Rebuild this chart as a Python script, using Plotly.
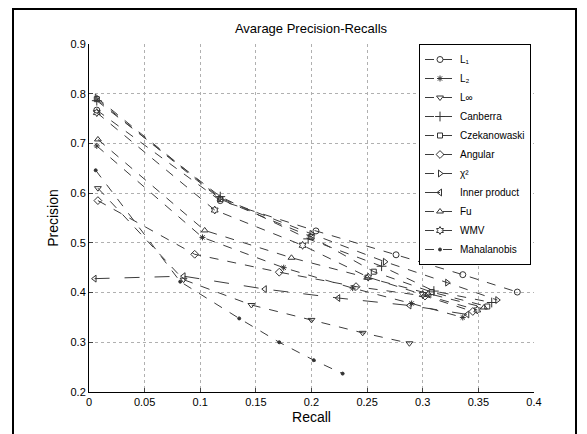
import plotly.graph_objects as go

names = ["L₁", "L₂", "L∞", "Canberra", "Czekanowaski", "Angular",
         "χ²", "Inner product", "Fu", "WMV", "Mahalanobis"]

recall_L1 = [0.007, 0.118, 0.204, 0.276, 0.336, 0.385]
prec_L1 = [0.767, 0.585, 0.524, 0.476, 0.436, 0.401]

recall_L2 = [0.007, 0.102, 0.175, 0.237, 0.290, 0.336]
prec_L2 = [0.695, 0.511, 0.450, 0.409, 0.378, 0.350]

recall_Linf = [0.008, 0.085, 0.146, 0.200, 0.246, 0.288]
prec_Linf = [0.610, 0.426, 0.375, 0.345, 0.319, 0.298]

recall_canb = [0.007, 0.118, 0.197, 0.263, 0.310, 0.362]
prec_canb = [0.786, 0.593, 0.508, 0.453, 0.403, 0.380]

recall_czek = [0.007, 0.118, 0.200, 0.256, 0.308, 0.358]
prec_czek = [0.789, 0.588, 0.512, 0.442, 0.401, 0.372]

recall_ang = [0.008, 0.095, 0.171, 0.240, 0.302, 0.345]
prec_ang = [0.585, 0.477, 0.441, 0.412, 0.393, 0.362]

recall_chi = [0.007, 0.118, 0.200, 0.266, 0.322, 0.367]
prec_chi = [0.792, 0.590, 0.518, 0.462, 0.420, 0.385]

recall_inner = [0.005, 0.085, 0.158, 0.224, 0.288, 0.340]
prec_inner = [0.428, 0.433, 0.407, 0.389, 0.374, 0.356]

recall_fu = [0.008, 0.104, 0.182, 0.250, 0.305, 0.355]
prec_fu = [0.708, 0.525, 0.470, 0.430, 0.398, 0.370]

recall_wmv = [0.007, 0.113, 0.192, 0.251, 0.300, 0.349]
prec_wmv = [0.762, 0.566, 0.495, 0.431, 0.396, 0.365]

recall_maha = [0.006, 0.082, 0.135, 0.171, 0.202, 0.228]
prec_maha = [0.646, 0.422, 0.348, 0.300, 0.264, 0.237]

xs = [recall_L1, recall_L2, recall_Linf, recall_canb, recall_czek, recall_ang,
      recall_chi, recall_inner, recall_fu, recall_wmv, recall_maha]
ys = [prec_L1, prec_L2, prec_Linf, prec_canb, prec_czek, prec_ang,
      prec_chi, prec_inner, prec_fu, prec_wmv, prec_maha]
symbols = ["circle-open", "asterisk-open", "triangle-down-open", "cross-thin-open", "square-open",
           "diamond-open", "triangle-right-open", "triangle-left-open", "triangle-up-open",
           "hexagram-open", "circle"]
sizes = [6, 5, 6, 7, 5, 6, 6, 6, 6, 6, 3]
dashes = ["dash", "dash", "dash", "dash", "dash", "dash", "dash", "longdash", "dash", "dash", "dash"]

fig = go.Figure()
for n, x, y, s, sz, d in zip(names, xs, ys, symbols, sizes, dashes):
    fig.add_trace(go.Scatter(
        x=x, y=y, name=n, mode="lines+markers",
        line=dict(color="#3c3c3c", width=1, dash=d),
        marker=dict(symbol=s, size=sz, color="#333333", line=dict(width=1, color="#333333")),
    ))

W, H = 587, 434
L, R, T, B = 89, 534, 44, 392
pw, ph = R - L, B - T
grid = dict(showgrid=True, gridcolor="#b0b0b0", griddash="dot", gridwidth=1)
fig.update_layout(
    width=W, height=H,
    margin=dict(l=L, r=W - R, t=T, b=H - B),
    paper_bgcolor="white", plot_bgcolor="white",
    font=dict(family="Liberation Sans, Arial, sans-serif", color="black", size=11),
    title=dict(text="Avarage Precision-Recalls", x=(311 - L) / pw, xanchor="center", xref="paper",
               y=1 - 28 / H, yanchor="middle", font=dict(size=13)),
    xaxis=dict(range=[0, 0.4], showline=True, linecolor="black",
               linewidth=1, ticks="inside", ticklen=4, zeroline=False, mirror=False,
               tickvals=[0, 0.05, 0.1, 0.15, 0.2, 0.25, 0.3, 0.35, 0.4],
               ticktext=["0", "0.05", "0.1", "0.15", "0.2", "0.25", "0.3", "0.35", "0.4"],
               title=dict(text="Recall", standoff=4, font=dict(size=14)), **grid),
    yaxis=dict(range=[0.2, 0.9], dtick=0.1, showline=True, linecolor="black", linewidth=1,
               ticks="inside", ticklen=4, zeroline=False,
               title=dict(text="Precision", standoff=8, font=dict(size=14)), **grid),
    legend=dict(x=(531 - L) / pw, xanchor="right", y=1.0, yanchor="top", bgcolor="white",
                bordercolor="black", borderwidth=1, font=dict(size=10),
                tracegroupgap=0, itemwidth=30),
    shapes=[dict(type="rect", xref="paper", yref="paper",
                 x0=(13 - L) / pw, x1=(576 - L) / pw,
                 y0=(B - 440) / ph, y1=(B - 9) / ph, line=dict(color="black", width=2))],
)
fig.write_html("out.html")
